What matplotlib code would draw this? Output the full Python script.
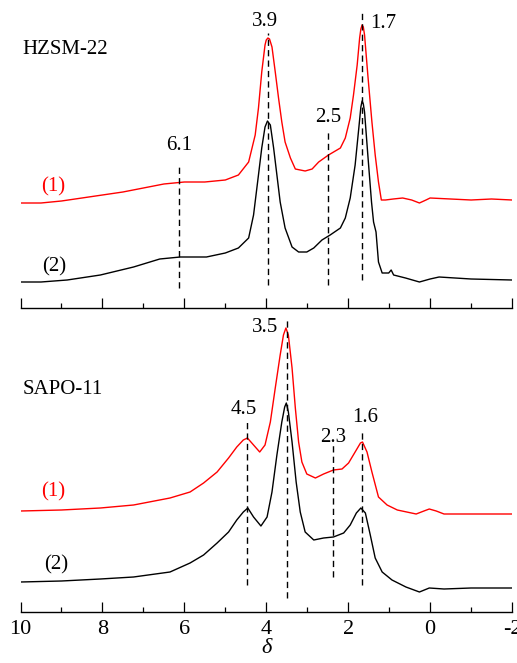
import matplotlib
matplotlib.use("Agg")
import matplotlib.pyplot as plt
from matplotlib.ticker import MultipleLocator

plt.rcParams['font.family'] = ['Liberation Serif', 'DejaVu Serif']

# ---------------- data (chemical shift in ppm, intensity in arbitrary units) ----------------
# HZSM-22, trace (1) red
hz1_ppm = [10.0, 9.5, 9.0, 8.5, 8.0, 7.5, 7.0, 6.5, 6.0, 5.5,
           5.0, 4.68, 4.43, 4.27, 4.19, 4.11, 4.03, 4.0, 3.96, 3.92,
           3.86, 3.78, 3.70, 3.62, 3.54, 3.41, 3.29, 3.05, 2.88, 2.72,
           2.48, 2.19, 2.07, 1.95, 1.87, 1.78, 1.72, 1.69, 1.66, 1.63,
           1.60, 1.52, 1.42, 1.34, 1.26, 1.19, 1.09, 0.9, 0.67, 0.45,
           0.26, 0.1, 0.0, -0.5, -1.0, -1.5, -2.0]
hz1_int = [105, 105, 107, 110, 113, 116, 120, 124, 126, 126,
           128, 133, 146, 173, 200, 236, 263, 268, 270, 269,
           261, 236, 210, 186, 166, 150, 139, 137, 139, 146,
           153, 160, 170, 190, 213, 243, 270, 279, 283, 281,
           273, 233, 186, 153, 126, 108, 108, 109, 110, 108,
           105, 108, 110, 109, 108, 109, 108]

# HZSM-22, trace (2) black
hz2_ppm = [10.0, 9.5, 8.86, 8.05, 7.24, 6.6, 6.1, 5.46, 5.0, 4.68,
           4.43, 4.31, 4.19, 4.11, 4.03, 3.97, 3.90, 3.82, 3.74, 3.66,
           3.54, 3.37, 3.21, 3.01, 2.84, 2.64, 2.44, 2.19, 2.07, 1.95,
           1.83, 1.74, 1.69, 1.66, 1.63, 1.60, 1.52, 1.43, 1.38, 1.32,
           1.26, 1.17, 1.01, 0.95, 0.89, 0.6, 0.26, 0.0, -0.22, -1.0,
           -2.0]
hz2_int = [26, 26, 28, 33, 41, 49, 51, 51, 55, 60,
           70, 93, 133, 160, 181, 187, 183, 160, 133, 106,
           80, 61, 56, 56, 60, 68, 73, 80, 90, 110,
           143, 180, 201, 207, 204, 196, 153, 106, 86, 76,
           46, 35, 35, 38, 33, 30, 26, 29, 31, 29,
           28]

# SAPO-11, trace (1) red
sa1_ppm = [10, 9, 8.05, 7.24, 6.35, 5.86, 5.53, 5.20, 4.92, 4.72,
           4.56, 4.46, 4.31, 4.16, 4.03, 3.90, 3.78, 3.66, 3.58, 3.52,
           3.46, 3.37, 3.29, 3.21, 3.13, 3.01, 2.80, 2.60, 2.36, 2.15,
           1.99, 1.83, 1.70, 1.65, 1.54, 1.42, 1.26, 1.05, 0.8, 0.34,
           0.15, 0.02, -0.15, -0.34, -1, -2]
sa1_int = [101, 102, 104, 107, 114, 120, 129, 140, 154, 165,
           172, 174, 167, 160, 167, 190, 224, 257, 277, 284,
           277, 244, 204, 170, 150, 138, 134, 138, 142, 143,
           149, 160, 169, 170, 160, 140, 115, 107, 102, 98,
           101, 103, 101, 98, 98, 98]

# SAPO-11, trace (2) black
sa2_ppm = [10, 9, 8.05, 7.24, 6.35, 5.86, 5.53, 5.20, 4.92, 4.72,
           4.56, 4.45, 4.31, 4.13, 3.98, 3.86, 3.74, 3.62, 3.55, 3.51,
           3.46, 3.37, 3.27, 3.17, 3.05, 2.84, 2.60, 2.36, 2.11, 1.95,
           1.80, 1.69, 1.58, 1.46, 1.34, 1.17, 0.93, 0.59, 0.26, 0.02,
           -0.34, -1, -2]
sa2_int = [30, 31, 33, 35, 40, 49, 57, 69, 80, 92,
           100, 104, 95, 86, 95, 120, 157, 190, 205, 209,
           200, 170, 130, 100, 80, 72, 74, 75, 79, 87,
           99, 104, 99, 77, 54, 40, 32, 25, 20, 24,
           23, 24, 24]

# peak markers: (label, line position, line bottom, line top)
hz_peak_labels = ["6.1", "3.9", "2.5", "1.7"]
hz_peak_pos = [6.13, 3.95, 2.5, 1.67]
hz_peak_lo = [20, 23, 23, 28]
hz_peak_hi = [142, 275, 176, 295]

sa_peak_labels = ["4.5", "3.5", "2.3", "1.6"]
sa_peak_pos = [4.48, 3.5, 2.36, 1.67]
sa_peak_lo = [27, 14, 35, 27]
sa_peak_hi = [190, 292, 167, 180]

xticks = [10, 8, 6, 4, 2, 0, -2]
xticklabels = ["10", "8", "6", "4", "2", "0", "-2"]

# ---------------- figure ----------------
W, H = 517, 663
fig = plt.figure(figsize=(W / 100, H / 100), dpi=100)

x0, x1 = 20.5 / W, 512 / W
ax_top = fig.add_axes([x0, (H - 308) / H, x1 - x0, 308 / H])
ax_bot = fig.add_axes([x0, (H - 612) / H, x1 - x0, 300 / H])
ax_top.set_ylim(0, 308)
ax_bot.set_ylim(0, 300)

RED = '#ff0000'
LW = 1.0
FS = 15

for ax in (ax_top, ax_bot):
    ax.set_xlim(10, -2)
    for s in ('top', 'left', 'right'):
        ax.spines[s].set_visible(False)
    ax.spines['bottom'].set_linewidth(1.0)
    ax.set_yticks([])
    ax.xaxis.set_major_locator(MultipleLocator(2))
    ax.xaxis.set_minor_locator(MultipleLocator(1))
    ax.tick_params(axis='x', which='major', direction='in', length=7.5, width=0.9,
                   labelsize=16, pad=6)
    ax.tick_params(axis='x', which='minor', direction='in', length=3.8, width=0.9)
    ax.patch.set_alpha(0)

ax_top.set_xticks(xticks)
ax_top.tick_params(axis='x', labelbottom=False)
ax_bot.set_xticks(xticks)
ax_bot.set_xticklabels(xticklabels)

# traces
ax_top.plot(hz1_ppm, hz1_int, color=RED, lw=LW)
ax_top.plot(hz2_ppm, hz2_int, color='black', lw=LW)
ax_bot.plot(sa1_ppm, sa1_int, color=RED, lw=LW)
ax_bot.plot(sa2_ppm, sa2_int, color='black', lw=LW)

# dashed peak lines
dash = (0, (4.5, 3))
ax_top.vlines(hz_peak_pos, hz_peak_lo, hz_peak_hi, colors='black', linestyles=[dash], lw=1.0)
ax_bot.vlines(sa_peak_pos, sa_peak_lo, sa_peak_hi, colors='black', linestyles=[dash], lw=1.0)

# peak labels
hz_lab_xy = [(6.13, 163), (4.03, 286), (2.49, 191), (1.15, 285)]
sa_lab_xy = [(4.55, 202), (4.02, 284), (2.36, 175), (1.59, 195)]
for t, (x, y) in zip(hz_peak_labels, hz_lab_xy):
    ax_top.text(x, y, t, fontsize=FS, ha='center', va='center')
for t, (x, y) in zip(sa_peak_labels, sa_lab_xy):
    ax_bot.text(x, y, t, fontsize=FS, ha='center', va='center')

# sample names
ax_top.text(9.95, 258, "HZSM-22", fontsize=FS, ha='left', va='center')
ax_bot.text(9.95, 222, "SAPO-11", fontsize=FS, ha='left', va='center')

# trace labels
ax_top.text(9.21, 121, "(1)", fontsize=FS, ha='center', va='center', color=RED)
ax_top.text(9.18, 41, "(2)", fontsize=FS, ha='center', va='center', color='black')
ax_bot.text(9.21, 120, "(1)", fontsize=FS, ha='center', va='center', color=RED)
ax_bot.text(9.14, 47, "(2)", fontsize=FS, ha='center', va='center', color='black')

ax_bot.set_xlabel("δ", fontsize=16, style='italic', labelpad=0)

fig.savefig("out.png", dpi=100)
